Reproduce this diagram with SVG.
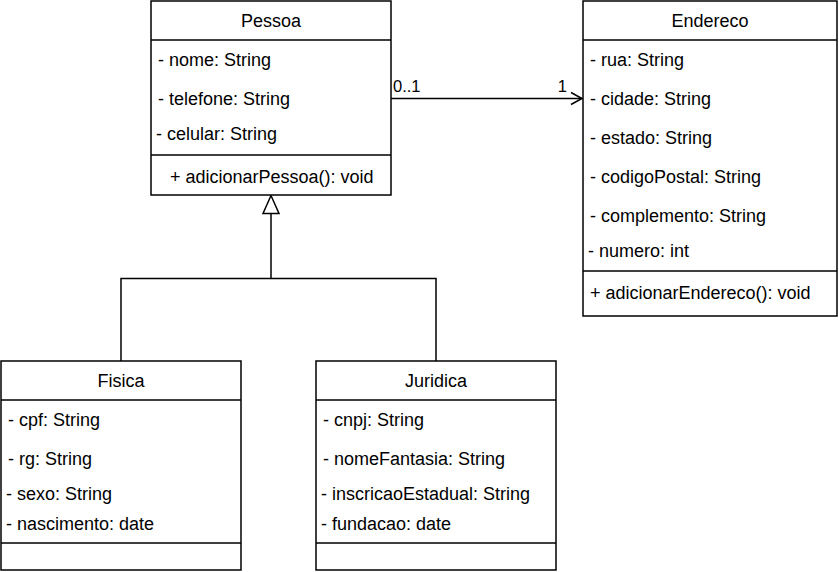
<svg xmlns="http://www.w3.org/2000/svg" width="839" height="572" viewBox="0 0 839 572">
<style>
.box{fill:#fff;stroke:#000;stroke-width:1.5}
.ln{fill:none;stroke:#000;stroke-width:1.5}
text{font-family:"Liberation Sans",Arial,Helvetica,sans-serif;font-size:18px;fill:#000}
.t{text-anchor:middle}
.lbl{font-size:16.5px}
</style>
<rect width="839" height="572" fill="#fff"/>
<g id="connectors">
<path class="ln" d="M391,98.5 H582"/>
<path class="ln" d="M571,92.5 L582,98.5 L571,104.5"/>
<text class="lbl" x="393" y="92">0..1</text>
<text class="lbl" x="567" y="92" text-anchor="end">1</text>
<path class="ln" d="M121,361 V278.5 H436 V361"/>
<path class="ln" d="M271,278.5 V213.5"/>
<polygon class="box" points="271,195.5 263,213.5 279,213.5"/>
</g>
<g id="Pessoa">
<rect class="box" x="151" y="1" width="240" height="194"/>
<path class="ln" d="M151,40 H391 M151,155 H391"/>
<text class="t" x="271" y="27">Pessoa</text>
<text x="158" y="66">- nome: String</text>
<text x="158" y="104.5">- telefone: String</text>
<text x="156" y="139.5">- celular: String</text>
<text x="170" y="182.5">+ adicionarPessoa(): void</text>
</g>
<g id="Endereco">
<rect class="box" x="583" y="1" width="254" height="315"/>
<path class="ln" d="M583,40 H837 M583,271 H837"/>
<text class="t" x="710" y="27">Endereco</text>
<text x="590" y="66">- rua: String</text>
<text x="590" y="105">- cidade: String</text>
<text x="590" y="144">- estado: String</text>
<text x="590" y="183">- codigoPostal: String</text>
<text x="590" y="222">- complemento: String</text>
<text x="588" y="256.5">- numero: int</text>
<text x="590" y="299">+ adicionarEndereco(): void</text>
</g>
<g id="Fisica">
<rect class="box" x="1" y="361" width="240" height="209"/>
<path class="ln" d="M1,400 H241 M1,543 H241"/>
<text class="t" x="121" y="387">Fisica</text>
<text x="8" y="426">- cpf: String</text>
<text x="8" y="465">- rg: String</text>
<text x="6" y="500">- sexo: String</text>
<text x="6" y="530">- nascimento: date</text>
</g>
<g id="Juridica">
<rect class="box" x="316" y="361" width="240" height="209"/>
<path class="ln" d="M316,400 H556 M316,543 H556"/>
<text class="t" x="436" y="387">Juridica</text>
<text x="323" y="426">- cnpj: String</text>
<text x="323" y="465">- nomeFantasia: String</text>
<text x="321" y="500">- inscricaoEstadual: String</text>
<text x="321" y="530">- fundacao: date</text>
</g>
</svg>
